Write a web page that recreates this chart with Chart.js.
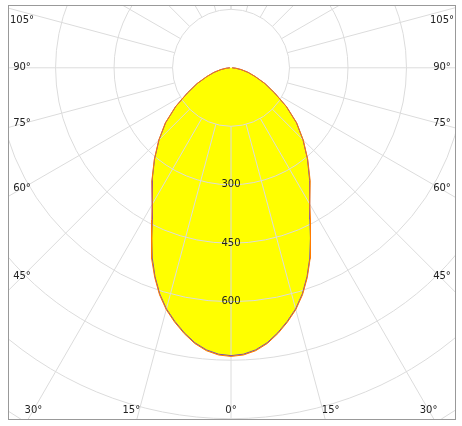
<!DOCTYPE html>
<html><head><meta charset="utf-8">
<script src="https://cdn.jsdelivr.net/npm/chart.js@4"></script>
<style>
html,body{margin:0;padding:0;background:#fff;}
#wrap{position:absolute;left:8px;top:5px;width:448px;height:415px;}
</style></head><body>
<div id="wrap"><canvas id="c" width="448" height="415"></canvas></div>
<script>
const angles = [0,2.5,5,7.5,10,12.5,15,17.5,20,22.5,25,27.5,30,35,40,45,50,55,60,65,70,75,80,85,90];
const intensityC0 = [740,737,728,713,692,668,642,610,572,530,484,440,404,354,306,262,220,174,130,97,67,46,27,12,3];
const intensityC90 = [738,735,726,711,690,666,640,608,570,528,482,438,402,353,305,261,219,173,129,96,66,45,26,12,3];
const ringValues = [150,300,450,600,750,900,1050,1200];
const ringLabels = ["300","450","600"];
const angleLabels = [0,15,30,45,60,75,90,105];

function polygon(vals){
  const pts=[];
  for(let i=angles.length-1;i>=0;i--){const t=-angles[i]*Math.PI/180;pts.push({x:vals[i]*Math.sin(t),y:-vals[i]*Math.cos(t)});}
  for(let i=1;i<angles.length;i++){const t=angles[i]*Math.PI/180;pts.push({x:vals[i]*Math.sin(t),y:-vals[i]*Math.cos(t)});}
  return pts;
}

const gridPlugin={
  id:'grid',
  beforeDatasetsDraw(chart){
    const ctx=chart.ctx,xs=chart.scales.x,ys=chart.scales.y,a=chart.chartArea;
    const cx=xs.getPixelForValue(0),cy=ys.getPixelForValue(0);
    const k=xs.getPixelForValue(1)-cx;
    ctx.save();
    ctx.beginPath();ctx.rect(a.left,a.top,a.right-a.left,a.bottom-a.top);ctx.clip();
    const m=chart.getDatasetMeta(0);
    ctx.beginPath();
    m.data.forEach((p,j)=>{j?ctx.lineTo(p.x,p.y):ctx.moveTo(p.x,p.y);});
    ctx.closePath();ctx.fillStyle='#ffff00';ctx.fill();
    ctx.strokeStyle='#dcdcdc';ctx.lineWidth=1;
    ringValues.forEach(r=>{ctx.beginPath();ctx.arc(cx,cy,r*k,0,Math.PI*2);ctx.stroke();});
    for(let d=-180;d<=180;d+=15){
      const t=d*Math.PI/180;
      ctx.beginPath();
      ctx.moveTo(cx+150*k*Math.sin(t),cy+150*k*Math.cos(t));
      ctx.lineTo(cx+2000*k*Math.sin(t),cy+2000*k*Math.cos(t));
      ctx.stroke();
    }
    ctx.restore();
  },
  afterDatasetsDraw(chart){
    const ctx=chart.ctx,xs=chart.scales.x,ys=chart.scales.y,a=chart.chartArea;
    const cx=xs.getPixelForValue(0),cy=ys.getPixelForValue(0);
    const k=xs.getPixelForValue(1)-cx;
    ctx.save();
    ctx.font='10px "DejaVu Sans", Verdana, sans-serif';
    ctx.fillStyle='#222';ctx.textAlign='center';ctx.textBaseline='middle';
    ringLabels.forEach(s=>{ctx.fillText(s,cx,cy+(+s)*k);});
    angleLabels.forEach(d=>{
      const t=d*Math.PI/180;
      if(d>=45){
        const dx=cx-a.left-14;
        let y=cy+dx/Math.tan(t);
        y=Math.max(y,a.top+15);
        ctx.fillText(d+'°',a.left+14,y);
        ctx.fillText(d+'°',a.right-14,y);
      } else {
        const y=a.bottom-10;
        let dx=(y-cy)*Math.tan(t);
        if(d===15)dx+=8;
        dx=Math.min(dx,cx-a.left-12);
        ctx.fillText(d+'°',cx-dx,y);
        if(d>0)ctx.fillText(d+'°',cx+dx,y);
      }
    });
    ctx.strokeStyle='#999';ctx.lineWidth=1;
    ctx.strokeRect(a.left+0.5,a.top+0.5,a.right-a.left-1,a.bottom-a.top-1);
    ctx.restore();
  }
};

new Chart(document.getElementById('c'),{
  type:'scatter',
  data:{datasets:[
    {data:polygon(intensityC0),showLine:true,borderColor:'#ff7a00',borderWidth:1,pointRadius:0,fill:false,tension:0},
    {data:polygon(intensityC90),showLine:true,borderColor:'#6a3fd0',borderWidth:1,pointRadius:0,fill:false,tension:0}
  ]},
  options:{
    responsive:false,animation:false,
    layout:{padding:0},
    plugins:{legend:{display:false},tooltip:{enabled:false}},
    scales:{
      x:{type:'linear',min:-572,max:577,display:false},
      y:{type:'linear',min:-903,max:161,display:false}
    }
  },
  plugins:[gridPlugin]
});
</script>
</body></html>
